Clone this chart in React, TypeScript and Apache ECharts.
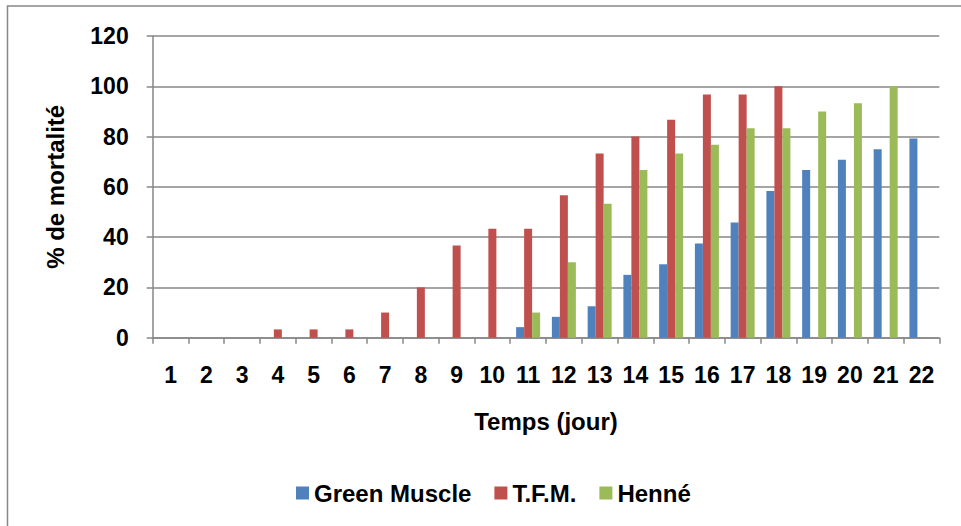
import React, { useEffect, useRef } from "react";
import * as echarts from "echarts";

// Jours d'observation
const days = ["1", "2", "3", "4", "5", "6", "7", "8", "9", "10", "11", "12", "13", "14", "15", "16", "17", "18", "19", "20", "21", "22"];

// % de mortalité cumulée par traitement
const greenMuscle = [0, 0, 0, 0, 0, 0, 0, 0, 0, 0, 4.2, 8.3, 12.5, 25, 29.2, 37.5, 45.8, 58.3, 66.7, 70.8, 75, 79.2];
const tfm = [0, 0, 0, 3.3, 3.3, 3.3, 10, 20, 36.7, 43.3, 43.3, 56.7, 73.3, 80, 86.7, 96.7, 96.7, 100, 0, 0, 0, 0];
const henne = [0, 0, 0, 0, 0, 0, 0, 0, 0, 0, 10, 30, 53.3, 66.7, 73.3, 76.7, 83.3, 83.3, 90, 93.3, 100, 0];

const FONT = "'Liberation Sans', Arial, sans-serif";
const GRAY = "#878787";

export default function App() {
  const ref = useRef<HTMLDivElement>(null);

  useEffect(() => {
    if (!ref.current) return;
    const chart = echarts.init(ref.current, null, { renderer: "svg" });
    const textBase = { fontFamily: FONT, fontWeight: "bold" as const, color: "#000" };
    chart.setOption({
      animation: false,
      backgroundColor: "#fff",
      graphic: [
        {
          type: "rect",
          shape: { x: 7.5, y: 6, width: 1200, height: 800 },
          style: { fill: "none", stroke: GRAY, lineWidth: 1.5 },
          silent: true,
          z: 0,
        },
      ],
      grid: { left: 152.7, right: 21.7, top: 36, bottom: 188.3, containLabel: false },
      legend: {
        left: 291,
        top: 476,
        itemWidth: 13,
        itemHeight: 13,
        itemGap: 23,
        icon: "rect",
        textStyle: { ...textBase, fontSize: 24 },
        data: ["Green Muscle", "T.F.M.", "Henné"],
      },
      xAxis: {
        type: "category",
        data: days,
        boundaryGap: true,
        name: "Temps (jour)",
        nameLocation: "middle",
        nameGap: 72,
        nameTextStyle: { ...textBase, fontSize: 24 },
        axisLine: { lineStyle: { color: GRAY, width: 1.5 } },
        axisTick: { show: true, length: 6, lineStyle: { color: GRAY, width: 1.5 } },
        axisLabel: { ...textBase, fontSize: 23, margin: 25.5, interval: 0 },
      },
      yAxis: {
        type: "value",
        min: 0,
        max: 120,
        interval: 20,
        name: "% de mortalité",
        nameLocation: "middle",
        nameGap: 85,
        nameRotate: 90,
        nameTextStyle: { ...textBase, fontSize: 24 },
        axisLine: { show: true, lineStyle: { color: GRAY, width: 1.5 } },
        axisTick: { show: true, length: 6, lineStyle: { color: GRAY, width: 1.5 } },
        splitLine: { lineStyle: { color: GRAY, width: 1.5 } },
        axisLabel: { ...textBase, fontSize: 23, margin: 24 },
      },
      series: [
        { name: "Green Muscle", type: "bar", data: greenMuscle, barWidth: 8, barGap: "0%", itemStyle: { color: "#4F81BD" } },
        { name: "T.F.M.", type: "bar", data: tfm, barWidth: 8, barGap: "0%", itemStyle: { color: "#C0504D" } },
        { name: "Henné", type: "bar", data: henne, barWidth: 8, barGap: "0%", itemStyle: { color: "#9BBB59" } },
      ],
    });
    return () => chart.dispose();
  }, []);

  return (
    <div
      ref={ref}
      style={{ position: "fixed", left: 0, top: 0, width: 961, height: 526 }}
    />
  );
}
